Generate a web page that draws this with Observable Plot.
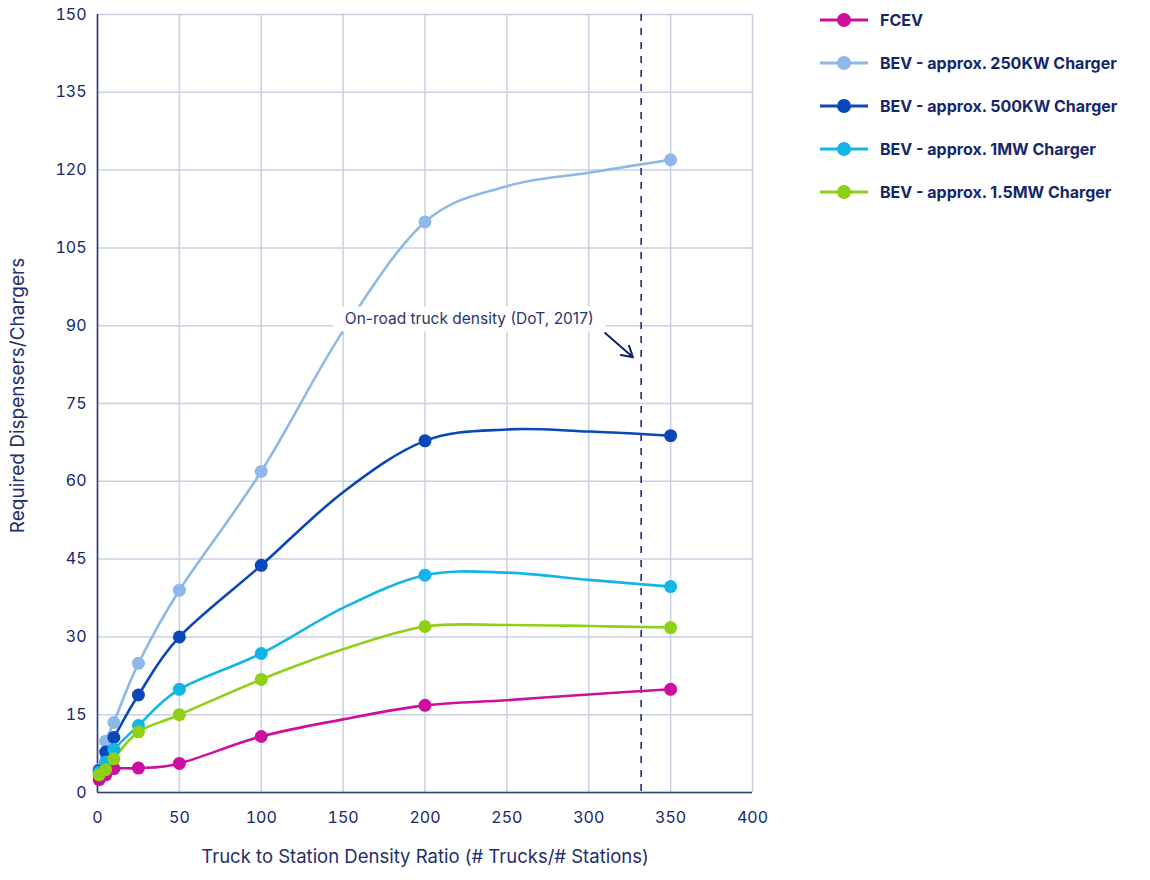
<!DOCTYPE html>
<html>
<head>
<meta charset="utf-8">
<script src="https://cdn.jsdelivr.net/npm/d3@7"></script>
<script src="https://cdn.jsdelivr.net/npm/@observablehq/plot@0.6"></script>
<style>
  html, body { margin: 0; padding: 0; background: #fff; }
  #wrap { position: relative; width: 1150px; height: 880px; font-family: Inter, "Open Sans", sans-serif; }
  #wrap svg.chart { display: block; overflow: visible; }
  #legend { position: absolute; left: 818px; top: -1px; }
  .item { display: flex; align-items: center; height: 42.8px; font-weight: 700; font-size: 16px; color: #15276b; }
  .item svg { margin-right: 10px; }
</style>
</head>
<body>
<div id="wrap"><div id="legend"></div></div>
<script>
// ---- data ----
// ratios with markers
const ratios = [1, 5, 10, 25, 50, 100, 200, 350];
// extra ratios the smoothed lines pass through (no markers)
const lineOnlyRatios = [150, 250, 300];
const seriesNames = ["FCEV", "BEV - approx. 250KW Charger", "BEV - approx. 500KW Charger", "BEV - approx. 1MW Charger", "BEV - approx. 1.5MW Charger"];
const seriesColors = ["#cc0f9f", "#8db8e8", "#0a47b8", "#12b5e5", "#8dd015"];
const fcev   = [2.5, 3.4, 4.6, 4.7, 5.6, 10.8, 16.8, 19.9];
const bev250 = [4.5, 9.9, 13.5, 24.9, 39, 61.9, 110, 122];
const bev500 = [4.2, 7.8, 10.6, 18.8, 30, 43.8, 67.8, 68.8];
const bev1mw = [3.9, 5.9, 8.3, 12.9, 19.9, 26.8, 41.9, 39.7];
const bev15  = [3.4, 4.4, 6.5, 11.7, 15, 21.8, 32, 31.8];
const fcevLine   = [14.1, 17.8, 18.9];
const bev250Line = [89.0, 116.9, 119.5];
const bev500Line = [57.9, 70.0, 69.6];
const bev1mwLine = [35.6, 42.4, 41.0];
const bev15Line  = [27.6, 32.3, 32.1];
const xTicks = [0, 50, 100, 150, 200, 250, 300, 350, 400];
const yTicks = [0, 15, 30, 45, 60, 75, 90, 105, 120, 135, 150];
const densityLine = [332];
const annotText = ["On-road truck density (DoT, 2017)"];
const annotPos = {x: 227, y: 91.2};
const arrowFrom = {x: 310, y: 88.6};
const arrowTo = {x: 327, y: 83.9};

const markerSeries = [fcev, bev250, bev500, bev1mw, bev15];
const lineSeries = [fcevLine, bev250Line, bev500Line, bev1mwLine, bev15Line];
const dots = [];
const lineRows = [];
markerSeries.forEach((vals, i) => {
  const pts = [];
  vals.forEach((v, j) => { dots.push({series: seriesNames[i], x: ratios[j], y: v}); pts.push({series: seriesNames[i], x: ratios[j], y: v}); });
  lineSeries[i].forEach((v, j) => pts.push({series: seriesNames[i], x: lineOnlyRatios[j], y: v}));
  pts.sort((a, b) => a.x - b.x);
  lineRows.push(...pts);
});

const navy = "#15276b";
const grid = "#c9d0e2";

const chart = Plot.plot({
  width: 1150,
  height: 880,
  marginLeft: 97,
  marginRight: 398,
  marginTop: 14,
  marginBottom: 88,
  className: "chart",
  style: {fontFamily: "Inter, 'Open Sans', sans-serif", fontSize: "16px", color: navy, background: "#fff", overflow: "visible"},
  x: {domain: [0, 400], ticks: xTicks, label: null},
  y: {domain: [0, 150], ticks: yTicks, label: null},
  color: {domain: seriesNames, range: seriesColors},
  marks: [
    Plot.gridX(xTicks, {stroke: grid, strokeOpacity: 1, strokeWidth: 1.5}),
    Plot.gridY(yTicks, {stroke: grid, strokeOpacity: 1, strokeWidth: 1.5}),
    Plot.axisX(xTicks, {tickSize: 0, tickPadding: 19, fontSize: 16, label: null}),
    Plot.axisY(yTicks, {tickSize: 0, tickPadding: 11, fontSize: 16, label: null}),
    Plot.ruleX(densityLine, {stroke: "#1c2f7a", strokeWidth: 1.6, strokeDasharray: "7,7"}),
    Plot.ruleX([0], {stroke: "#2e3c78", strokeWidth: 1.6}),
    Plot.ruleY([0], {stroke: "#2e3c78", strokeWidth: 1.6}),
    Plot.line(lineRows, {x: "x", y: "y", z: "series", stroke: "series", strokeWidth: 2.6, curve: "cardinal", tension: 0}),
    Plot.dot(dots, {x: "x", y: "y", fill: "series", r: 6.5}),
    Plot.text(annotText, {x: annotPos.x, y: annotPos.y, text: d => d, fontSize: 15.5, fill: "#2a356e"}),
    Plot.arrow([0], {x1: arrowFrom.x, y1: arrowFrom.y, x2: arrowTo.x, y2: arrowTo.y, stroke: "#10246a", strokeWidth: 2, headLength: 11}),
    Plot.text(["Truck to Station Density Ratio (# Trucks/# Stations)"], {frameAnchor: "bottom", dy: 70, text: d => d, fontSize: 18.5, fill: "#1f2e6e"}),
    Plot.text(["Required Dispensers/Chargers"], {frameAnchor: "left", dx: -80, dy: -8, rotate: -90, textAnchor: "middle", text: d => d, fontSize: 19, fill: "#1f2e6e"})
  ]
});

const wrap = document.getElementById("wrap");
wrap.insertBefore(chart, wrap.firstChild);

// white box behind annotation text
const svg = chart.tagName.toLowerCase() === "svg" ? chart : chart.querySelector("svg");
const t = Array.from(svg.querySelectorAll("text")).find(e => e.textContent === annotText[0]);
if (t) {
  const bb = t.getBBox();
  const rect = document.createElementNS("http://www.w3.org/2000/svg", "rect");
  rect.setAttribute("x", bb.x - 12);
  rect.setAttribute("y", bb.y - 3);
  rect.setAttribute("width", bb.width + 24);
  rect.setAttribute("height", bb.height + 6);
  rect.setAttribute("fill", "#fff");
  const tr = t.getAttribute("transform");
  if (tr) rect.setAttribute("transform", tr);
  t.parentNode.insertBefore(rect, t);
}

// legend
const legend = document.getElementById("legend");
seriesNames.forEach((name, i) => {
  const div = document.createElement("div");
  div.className = "item";
  div.innerHTML = `<svg width="52" height="16"><line x1="2" x2="50" y1="8" y2="8" stroke="${seriesColors[i]}" stroke-width="3"/><circle cx="26" cy="8" r="7" fill="${seriesColors[i]}"/></svg><span>${name}</span>`;
  legend.appendChild(div);
});
</script>
</body>
</html>
